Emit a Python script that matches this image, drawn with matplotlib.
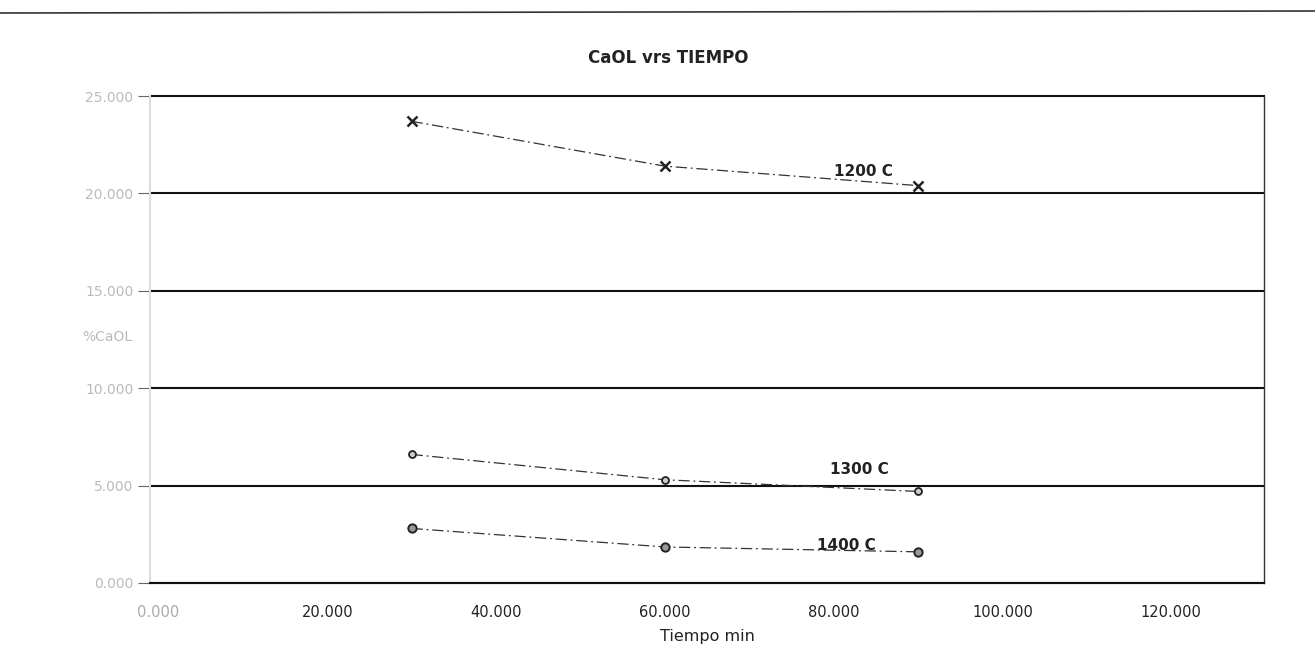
import matplotlib
matplotlib.use("Agg")
import matplotlib.pyplot as plt
from matplotlib.lines import Line2D

tiempo = [30, 60, 90]
caol_1200 = [23.7, 21.4, 20.4]
caol_1300 = [6.6, 5.3, 4.7]
caol_1400 = [2.8, 1.85, 1.6]
series_labels = ["1200 C", "1300 C", "1400 C"]
label_pos = [(83.5, 21.1), (83, 5.85), (81.5, 1.95)]
x_ticks = [0, 20, 40, 60, 80, 100, 120]
y_ticks = [0, 5, 10, 15, 20, 25]

plt.rcParams['font.family'] = ['DejaVu Sans']

fig = plt.figure(figsize=(13.15, 6.6), dpi=100)
ax = fig.add_axes([150/1315, 1-583/660, (1264-150)/1315, (583-96)/660])

ax.set_xlim(-1, 131)
ax.set_ylim(0, 25)

for yv in y_ticks:
    ax.axhline(yv, color='#111111', lw=1.5, zorder=1, clip_on=False)

ls = (0, (9, 3, 1.5, 3))
ax.plot(tiempo, caol_1200, color='#333333', lw=0.9, ls=ls, marker='x',
        ms=7, mew=1.8, mec='#222222', zorder=3)
ax.plot(tiempo, caol_1300, color='#333333', lw=0.9, ls=ls, marker='o',
        ms=5, mew=1.3, mfc='#cccccc', mec='#222222', zorder=3)
ax.plot(tiempo, caol_1400, color='#333333', lw=0.9, ls=ls, marker='o',
        ms=6, mew=1.4, mfc='#999999', mec='#222222', zorder=3)

for lab, (lx, ly) in zip(series_labels, label_pos):
    ax.text(lx, ly, lab, fontsize=11, fontweight='bold', ha='center',
            va='center', color='#222222')

ax.set_xticks(x_ticks)
ax.set_xticklabels([f"{v:.3f}" for v in x_ticks], fontsize=10.5, color='#222222')
ax.get_xticklabels()[0].set_color('#aaaaaa')
ax.set_yticks(y_ticks)
ax.set_yticklabels([f"{v:.3f}" for v in y_ticks], fontsize=10, color='#bbbbbb')
ax.tick_params(axis='x', length=0, pad=16)
ax.tick_params(axis='y', length=9, color='#666666', pad=3)

ax.spines['top'].set_visible(False)
ax.spines['left'].set_color('#dddddd')
ax.spines['left'].set_linewidth(1.5)
ax.spines['right'].set_color('#333333')
ax.spines['right'].set_linewidth(1.0)
ax.spines['bottom'].set_color('#111111')
ax.spines['bottom'].set_linewidth(1.5)

ax.set_xlabel("Tiempo min", fontsize=11.5, color='#222222', labelpad=6)
ax.set_ylabel("%CaOL", fontsize=10, color='#bbbbbb', rotation=0,
              ha='right', va='center')
ax.yaxis.set_label_coords(-(150 - 132) / 1114, 0.505)

fig.text(668/1315, 1-58/660, "CaOL vrs TIEMPO", fontsize=12, fontweight='bold',
         ha='center', va='center', color='#222222')

fig.add_artist(Line2D([0, 1], [1-13/660, 1-11/660], color='#333333', lw=1.2,
                      transform=fig.transFigure))

fig.savefig("out.png", dpi=100)
